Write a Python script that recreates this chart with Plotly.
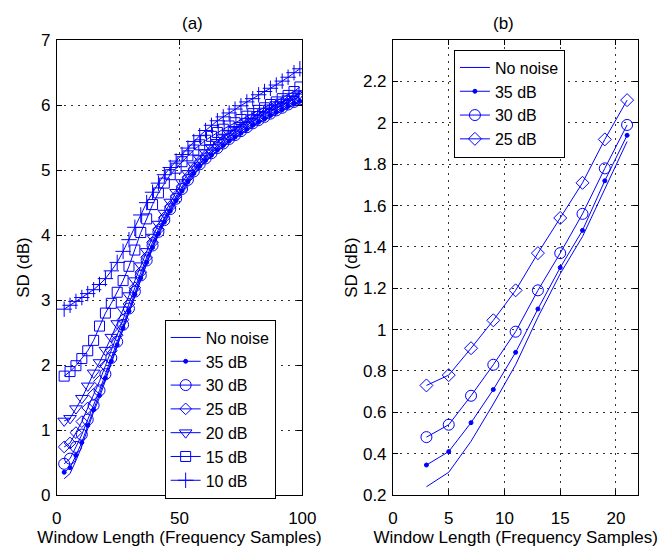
import plotly.graph_objects as go

# ---- (a) full window-length sweep ----
win_full = [3.0, 5.4, 7.8, 10.2, 12.6, 15.0, 17.4, 19.8, 22.2, 24.6,
            27.0, 29.4, 31.8, 34.2, 36.6, 39.0, 41.4, 43.8, 46.2, 48.6,
            51.0, 53.4, 55.8, 58.2, 60.6, 63.0, 65.4, 67.8, 70.2, 72.6,
            75.0, 77.4, 79.8, 82.2, 84.6, 87.0, 89.4, 91.8, 94.2, 96.6, 99.0]

sd_clean = [0.25, 0.33, 0.53, 0.75, 1.02, 1.28, 1.50, 1.77, 2.03, 2.29,
            2.55, 2.81, 3.07, 3.32, 3.56, 3.79, 4.00, 4.18, 4.35, 4.51,
            4.66, 4.80, 4.93, 5.04, 5.13, 5.21, 5.29, 5.36, 5.43, 5.49,
            5.55, 5.61, 5.67, 5.72, 5.77, 5.82, 5.87, 5.91, 5.96, 6.00, 6.04]
sd_35 = [0.35, 0.42, 0.61, 0.81, 1.07, 1.31, 1.53, 1.80, 2.06, 2.31,
         2.57, 2.83, 3.09, 3.34, 3.58, 3.81, 4.02, 4.20, 4.37, 4.53,
         4.68, 4.82, 4.95, 5.06, 5.15, 5.23, 5.31, 5.38, 5.45, 5.51,
         5.57, 5.63, 5.69, 5.74, 5.79, 5.84, 5.89, 5.93, 5.98, 6.02, 6.06]
sd_30 = [0.48, 0.56, 0.74, 0.93, 1.16, 1.38, 1.61, 1.86, 2.11, 2.36,
         2.62, 2.87, 3.13, 3.38, 3.61, 3.84, 4.05, 4.23, 4.40, 4.56,
         4.71, 4.85, 4.98, 5.09, 5.18, 5.26, 5.34, 5.41, 5.48, 5.54,
         5.60, 5.66, 5.72, 5.77, 5.82, 5.87, 5.92, 5.96, 6.01, 6.05, 6.09]
sd_25 = [0.74, 0.80, 0.96, 1.13, 1.34, 1.55, 1.75, 1.99, 2.22, 2.46,
         2.70, 2.94, 3.19, 3.43, 3.66, 3.89, 4.09, 4.27, 4.44, 4.60,
         4.75, 4.89, 5.02, 5.13, 5.22, 5.30, 5.38, 5.45, 5.52, 5.58,
         5.64, 5.70, 5.76, 5.81, 5.86, 5.91, 5.96, 6.00, 6.05, 6.09, 6.13]
sd_20 = [1.14, 1.18, 1.33, 1.49, 1.68, 1.88, 2.04, 2.23, 2.43, 2.64,
         2.85, 3.07, 3.30, 3.53, 3.75, 3.97, 4.17, 4.34, 4.51, 4.66,
         4.81, 4.95, 5.07, 5.18, 5.27, 5.35, 5.43, 5.50, 5.57, 5.63,
         5.69, 5.75, 5.81, 5.86, 5.91, 5.96, 6.01, 6.05, 6.10, 6.14, 6.18]
sd_15 = [1.83, 1.90, 1.99, 2.10, 2.22, 2.38, 2.60, 2.80, 2.95, 3.12,
         3.30, 3.52, 3.77, 4.04, 4.25, 4.47, 4.65, 4.80, 4.93, 5.03,
         5.13, 5.22, 5.31, 5.39, 5.46, 5.52, 5.58, 5.63, 5.68, 5.73,
         5.78, 5.83, 5.87, 5.92, 5.96, 6.01, 6.05, 6.10, 6.15, 6.21, 6.28]
sd_10 = [2.86, 2.92, 2.98, 3.04, 3.10, 3.16, 3.24, 3.33, 3.45, 3.58,
         3.75, 3.93, 4.12, 4.31, 4.50, 4.66, 4.80, 4.93, 5.04, 5.14,
         5.24, 5.34, 5.44, 5.53, 5.61, 5.69, 5.76, 5.82, 5.88, 5.94,
         5.99, 6.05, 6.10, 6.16, 6.21, 6.26, 6.31, 6.37, 6.43, 6.50, 6.56]

# ---- (b) short windows ----
win_short = [3, 5, 7, 9, 11, 13, 15, 17, 19, 21]
sd_clean_s = [0.24, 0.31, 0.46, 0.64, 0.83, 1.06, 1.27, 1.45, 1.68, 1.91]
sd_35_s = [0.345, 0.41, 0.55, 0.71, 0.89, 1.10, 1.30, 1.48, 1.72, 1.94]
sd_30_s = [0.48, 0.54, 0.68, 0.83, 0.99, 1.19, 1.37, 1.56, 1.78, 1.99]
sd_25_s = [0.73, 0.78, 0.91, 1.045, 1.19, 1.37, 1.54, 1.71, 1.92, 2.11]

labels_full = ["No noise", "35 dB", "30 dB", "25 dB", "20 dB", "15 dB", "10 dB"]
series_full = [sd_clean, sd_35, sd_30, sd_25, sd_20, sd_15, sd_10]
labels_short = ["No noise", "35 dB", "30 dB", "25 dB"]
series_short = [sd_clean_s, sd_35_s, sd_30_s, sd_25_s]

BLUE = "#0000ff"
FONT = "Liberation Sans, Arial, Helvetica, sans-serif"

# marker style per curve: (symbol, size); None means plain line
styles_full = [None, ("circle", 4), ("circle-open", 11), ("diamond-open", 9),
               ("triangle-down-open", 11), ("square-open", 10), ("cross-thin-open", 11)]
styles_short = [None, ("circle", 4), ("circle-open", 11), ("diamond-open", 10)]

fig = go.Figure()


def add_curve(x, y, name, style, xa, ya, legend):
    kw = dict(x=x, y=y, name=name, xaxis=xa, yaxis=ya, legend=legend,
              line=dict(color=BLUE, width=1))
    if style is None:
        kw["mode"] = "lines"
    else:
        sym, size = style
        kw["mode"] = "lines+markers"
        kw["marker"] = dict(symbol=sym, size=size, color=BLUE,
                            line=dict(color=BLUE, width=1))
    fig.add_trace(go.Scatter(**kw))


for name, ys, st in zip(labels_full, series_full, styles_full):
    add_curve(win_full, ys, name, st, "x", "y", "legend")
for name, ys, st in zip(labels_short, series_short, styles_short):
    add_curve(win_short, ys, name, st, "x2", "y2", "legend2")

H, W = 553, 671
ydom = [1 - 503.3 / H, 1 - 32.3 / H]

axis_common = dict(showline=True, linecolor="black", linewidth=1, mirror="ticks",
                   ticks="inside", ticklen=5, tickcolor="black",
                   showgrid=True, gridcolor="#333333", gridwidth=1, griddash="2px,5px",
                   zeroline=False, tickfont=dict(family=FONT, size=17, color="black"),
                   title_font=dict(family=FONT, size=17, color="black"))

legend_common = dict(bgcolor="white", bordercolor="black", borderwidth=1,
                     font=dict(family=FONT, size=16, color="black"),
                     xanchor="left", itemwidth=30,
                     tracegroupgap=0, traceorder="normal")

fig.update_layout(
    width=W, height=H,
    margin=dict(l=0, r=0, t=0, b=0),
    paper_bgcolor="white", plot_bgcolor="white",
    font=dict(family=FONT, size=17, color="black"),
    xaxis=dict(domain=[53.3 / W, 306 / W], range=[0, 100], tickvals=[0, 50, 100],
               ticklabelstandoff=8,
               title=dict(text="Window Length (Frequency Samples)", standoff=2),
               anchor="y", **axis_common),
    yaxis=dict(domain=ydom, range=[0, 7], tickvals=[0, 1, 2, 3, 4, 5, 6, 7],
               ticklabelstandoff=2,
               title=dict(text="SD (dB)", standoff=6), anchor="x", **axis_common),
    xaxis2=dict(domain=[399.3 / W, 651.7 / W], range=[0, 22],
                tickvals=[0, 5, 10, 15, 20], ticklabelstandoff=8,
                title=dict(text="Window Length (Frequency Samples)", standoff=2),
                anchor="y2", **axis_common),
    yaxis2=dict(domain=ydom, range=[0.2, 2.4],
                tickvals=[0.2, 0.4, 0.6, 0.8, 1.0, 1.2, 1.4, 1.6, 1.8, 2.0, 2.2],
                ticklabelstandoff=2,
                title=dict(text="SD (dB)", standoff=0), anchor="x2", **axis_common),
    legend=dict(x=164.3 / W, y=1 - 507 / H, yanchor="bottom", **legend_common),
    legend2=dict(x=462 / W, y=1 - 42 / H, yanchor="top", **legend_common),
    annotations=[
        dict(text="(a)", x=179.7 / W, y=1 - 15 / H, xref="paper", yref="paper",
             yanchor="middle", showarrow=False,
             font=dict(family=FONT, size=17, color="black")),
        dict(text="(b)", x=525.5 / W, y=1 - 15 / H, xref="paper", yref="paper",
             yanchor="middle", showarrow=False,
             font=dict(family=FONT, size=17, color="black")),
    ],
)

fig.write_html("out.html")
